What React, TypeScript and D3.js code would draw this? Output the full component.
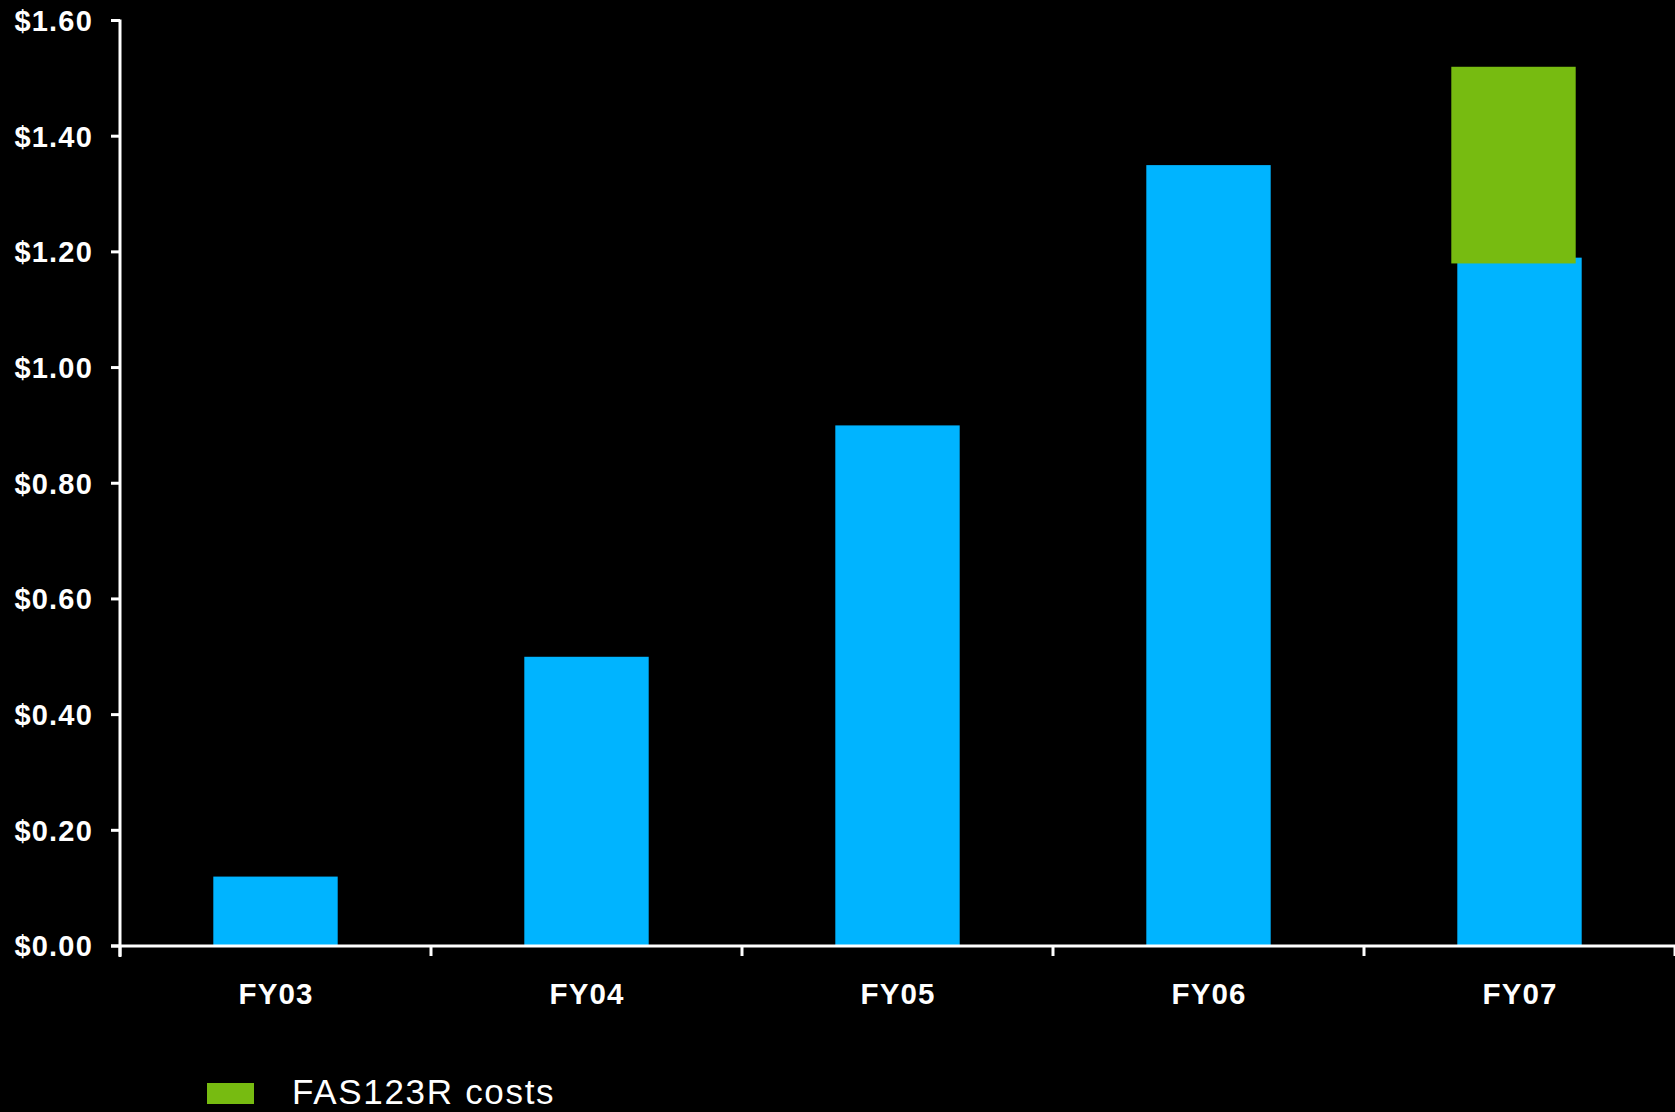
import React from "react";
import * as d3 from "d3";

const categories = ["FY03", "FY04", "FY05", "FY06", "FY07"];
const epsValues = [0.12, 0.5, 0.9, 1.35, 1.19];
const fasLow = [null, null, null, null, 1.18];
const fasHigh = [null, null, null, null, 1.52];
const yTicks = [0, 0.2, 0.4, 0.6, 0.8, 1.0, 1.2, 1.4, 1.6];
const legendLabel = "FAS123R costs";

const W = 1675;
const H = 1112;
const BLUE = "#00B4FF";
const GREEN = "#77BB11";
const FONT = "'Liberation Sans', Arial, sans-serif";

export default function App() {
  const y = d3.scaleLinear().domain([0, 1.6]).range([946, 20.5]);
  const x = d3
    .scaleBand<string>()
    .domain(categories)
    .range([120, W])
    .paddingInner(0.6)
    .paddingOuter(0.3);
  const step = x.step();
  const bw = x.bandwidth();
  const x0 = 120;
  const boundaries = d3.range(categories.length + 1).map((i) => x0 + i * step);

  return (
    <svg
      width={W}
      height={H}
      style={{ position: "absolute", left: 0, top: 0, background: "#000" }}
    >
      <rect x={0} y={0} width={W} height={H} fill="#000" />
      {/* bars */}
      {categories.map((c, i) => (
        <rect
          key={"b" + c}
          x={x(c)!}
          y={y(epsValues[i])}
          width={bw}
          height={y(0) - y(epsValues[i])}
          fill={BLUE}
        />
      ))}
      {categories.map((c, i) =>
        fasLow[i] != null && fasHigh[i] != null ? (
          <rect
            key={"g" + c}
            x={x(c)! - 6}
            y={y(fasHigh[i] as number)}
            width={bw}
            height={y(fasLow[i] as number) - y(fasHigh[i] as number)}
            fill={GREEN}
          />
        ) : null
      )}
      {/* y axis */}
      <line x1={120} x2={120} y1={y(1.6) - 1} y2={y(0) + 11} stroke="#fff" strokeWidth={3} />
      {yTicks.map((t) => (
        <g key={"yt" + t}>
          <line x1={111} x2={120} y1={y(t)} y2={y(t)} stroke="#fff" strokeWidth={3} />
          <text
            x={93}
            y={y(t)}
            dy="0.36em"
            textAnchor="end"
            fill="#fff"
            fontFamily={FONT}
            fontWeight="bold"
            fontSize={29}
            letterSpacing={1.2}
          >
            {"$" + d3.format(".2f")(t)}
          </text>
        </g>
      ))}
      {/* x axis */}
      <line x1={111} x2={W} y1={y(0)} y2={y(0)} stroke="#fff" strokeWidth={3} />
      {boundaries.map((b, i) => (
        <line key={"xt" + i} x1={b} x2={b} y1={y(0)} y2={y(0) + 10} stroke="#fff" strokeWidth={3} />
      ))}
      {categories.map((c) => (
        <text
          key={"xl" + c}
          x={x(c)! + bw / 2 + 0.5}
          y={1003.5}
          textAnchor="middle"
          fill="#fff"
          fontFamily={FONT}
          fontWeight="bold"
          fontSize={29.5}
          letterSpacing={1.1}
        >
          {c}
        </text>
      ))}
      {/* legend */}
      <rect x={207} y={1083} width={47} height={21} fill={GREEN} />
      <text x={292} y={1103.5} fill="#fff" fontFamily={FONT} fontSize={35} letterSpacing={1.7}>
        {legendLabel}
      </text>
    </svg>
  );
}
